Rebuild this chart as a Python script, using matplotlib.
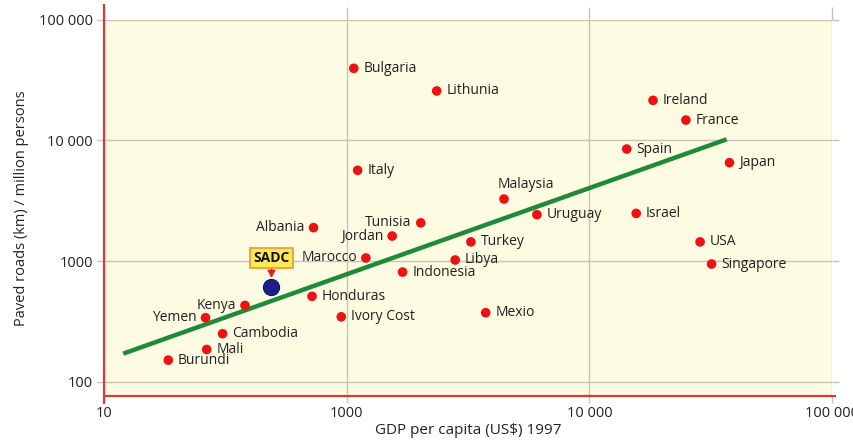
import matplotlib
matplotlib.use('Agg')
import matplotlib.pyplot as plt
from matplotlib.ticker import FixedLocator, FixedFormatter, NullLocator

# GDP per capita (US$, 1997) and paved roads (km per million persons)
countries = ['Burundi', 'Mali', 'Yemen', 'Cambodia', 'Kenya', 'Albania', 'Honduras',
             'Ivory Cost', 'Marocco', 'Bulgaria', 'Italy', 'Jordan', 'Indonesia',
             'Tunisia', 'Lithunia', 'Libya', 'Turkey', 'Mexio', 'Malaysia', 'Uruguay',
             'Spain', 'Israel', 'Ireland', 'France', 'USA', 'Singapore', 'Japan']
gdp = [184, 265, 262, 308, 381, 730, 720,
       950, 1200, 1070, 1110, 1540, 1700,
       2020, 2350, 2800, 3250, 3740, 4450, 6080,
       14260, 15600, 18300, 25000, 28600, 31900, 37800]
roads = [151, 185, 339, 250, 429, 1890, 510,
         345, 1060, 39400, 5640, 1610, 810,
         2070, 25600, 1020, 1440, 373, 3260, 2420,
         8460, 2480, 21400, 14700, 1440, 944, 6520]

sadc_gdp = 490
sadc_roads = 610

# end points of the fitted trend
trend_gdp = [120, 36800]
trend_roads = [171, 10180]

x_ticks = [100, 1000, 10000, 100000]
x_tick_labels = ['10', '1000', '10 000', '100 000']
y_ticks = [100, 1000, 10000, 100000]
y_tick_labels = ['100', '1000', '10 000', '100 000']

# labels written on the left of their dot
left_labels = {'Yemen', 'Kenya', 'Albania', 'Tunisia', 'Jordan', 'Marocco'}

red = '#d8393c'
grid_col = '#c8c4b4'
text_col = '#222222'

plt.rcParams['font.family'] = ['Open Sans', 'DejaVu Sans']

fig = plt.figure(figsize=(8.54, 4.48), dpi=100)
ax = fig.add_axes([0.12178, 0.11496, 0.85246, 0.84151])
ax.set_facecolor('#fdfbe1')
ax.set_xscale('log')
ax.set_yscale('log')
ax.set_xlim(100, 100000)
ax.set_ylim(75.5, 100000)

ax.xaxis.set_major_locator(FixedLocator(x_ticks))
ax.xaxis.set_major_formatter(FixedFormatter(x_tick_labels))
ax.xaxis.set_minor_locator(NullLocator())
ax.yaxis.set_major_locator(FixedLocator(y_ticks))
ax.yaxis.set_major_formatter(FixedFormatter(y_tick_labels))
ax.yaxis.set_minor_locator(NullLocator())

ax.grid(True, color=grid_col, lw=1.0, zorder=0)
ax.set_axisbelow(True)
ax.tick_params(axis='x', which='major', bottom=True, top=True, direction='out',
               length=5, width=1, color=grid_col, labelsize=10.5, pad=1.5,
               labelcolor=text_col)
ax.tick_params(axis='y', which='major', left=True, right=True, direction='out',
               length=5, width=1, color=grid_col, labelsize=10.5, pad=3,
               labelcolor=text_col)
for t in ax.xaxis.get_major_ticks():
    t.tick2line.set_markersize(9.5)

for s in ax.spines.values():
    s.set_visible(False)
# red axis lines, running a little past the plot area
ax.plot([0, 0], [-0.02, 1.041], transform=ax.transAxes, color=red, lw=1.6,
        clip_on=False, zorder=5, solid_capstyle='butt')
ax.plot([0, 1.005], [0, 0], transform=ax.transAxes, color=red, lw=1.6,
        clip_on=False, zorder=5, solid_capstyle='butt')

ax.plot(trend_gdp, trend_roads, color='#1e8a3a', lw=3.2, zorder=3,
        solid_capstyle='butt')

ax.scatter(gdp, roads, s=48, color='#ee1111', edgecolors='none', zorder=4)

for name, x, y in zip(countries, gdp, roads):
    if name == 'Malaysia':
        ax.annotate(name, (x, y), xytext=(-4.3, 10.6), textcoords='offset points',
                    ha='left', va='center', fontsize=10, color=text_col)
    elif name in left_labels:
        ax.annotate(name, (x, y), xytext=(-6.5, 0), textcoords='offset points',
                    ha='right', va='center', fontsize=10, color=text_col)
    else:
        ax.annotate(name, (x, y), xytext=(7, 0), textcoords='offset points',
                    ha='left', va='center', fontsize=10, color=text_col)

ax.scatter([sadc_gdp], [sadc_roads], s=135, color='#1d1d8c', edgecolors='#111166',
           linewidths=0.8, zorder=4)
ax.annotate('SADC', (sadc_gdp, sadc_roads), xytext=(0, 21), textcoords='offset points',
            ha='center', va='center', fontsize=10, fontweight='bold', color='#111111',
            bbox=dict(boxstyle='square,pad=0.22', facecolor='#ffe95a',
                      edgecolor='#f0a030', lw=1.3),
            arrowprops=dict(arrowstyle='-|>,head_length=0.4,head_width=0.22',
                            color='#e02020', lw=1.3, shrinkA=0, shrinkB=6.5),
            zorder=6)

ax.set_xlabel('GDP per capita (US$) 1997', fontsize=11, color=text_col, labelpad=2)
ax.set_ylabel('Paved roads (km) / million persons', fontsize=10.5, color=text_col,
              labelpad=7)

fig.savefig('out.png', dpi=100, facecolor='white')
